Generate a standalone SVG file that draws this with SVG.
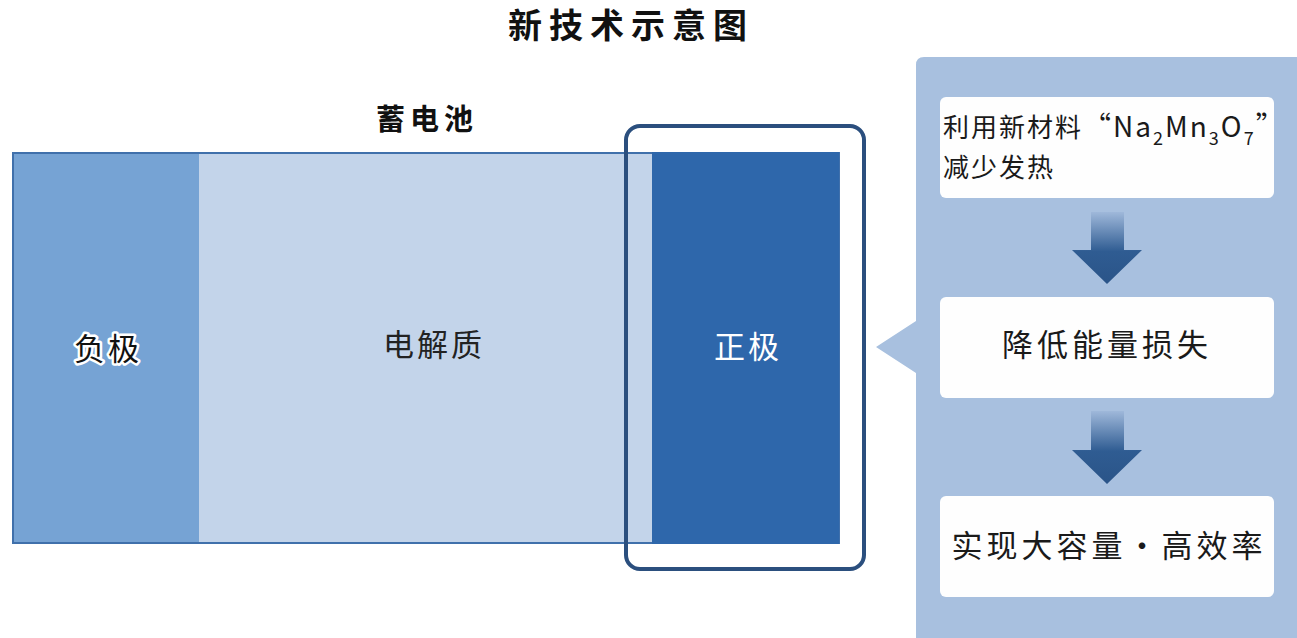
<svg xmlns="http://www.w3.org/2000/svg" width="1297" height="638" viewBox="0 0 1297 638">
<style>
text{font-family:"Noto Sans CJK SC","Noto Sans",sans-serif;}
.title{font-size:34px;font-weight:bold;fill:#111;letter-spacing:7px;}
.sub{font-size:29px;font-weight:bold;fill:#111;letter-spacing:5px;}
.lbl{font-size:31px;letter-spacing:3px;}
.box{fill:#fefefe;}
.btxt{font-size:31px;fill:#1a1a1a;letter-spacing:4px;}
.arrow{fill:url(#ag);}
</style>
<defs>
<linearGradient id="ag" x1="0" y1="0" x2="0" y2="1">
<stop offset="0" stop-color="#9fb8da"/>
<stop offset="0.55" stop-color="#2f5c92"/>
<stop offset="1" stop-color="#2a5488"/>
</linearGradient>
</defs>
<rect width="1297" height="638" fill="#ffffff"/>
<text class="title" x="631" y="38" text-anchor="middle">新技术示意图</text>
<text class="sub" x="427" y="130" text-anchor="middle">蓄电池</text>

<g id="battery">
<g id="negative">
<rect x="13" y="153" width="186" height="390" fill="#76a3d4"/>
<text class="lbl" x="108" y="360" text-anchor="middle" fill="#111" stroke="#ffffff" stroke-width="5" stroke-linejoin="round" paint-order="stroke">负极</text>
</g>
<g id="electrolyte">
<rect x="199" y="153" width="453" height="390" fill="#c3d4ea"/>
<text class="lbl" x="434" y="356" text-anchor="middle" fill="#222">电解质</text>
</g>
<rect x="13" y="153" width="826" height="390" fill="none" stroke="#4070ab" stroke-width="2"/>
<g id="positive">
<rect x="652" y="152" width="187" height="392" fill="#2e67ab"/>
<text class="lbl" x="748" y="358" text-anchor="middle" fill="#ffffff">正极</text>
</g>
</g>

<g id="highlight">
<rect x="626" y="126" width="238" height="443" rx="14" fill="none" stroke="#2b4f7e" stroke-width="4"/>
</g>

<g id="panel">
<path d="M916,65 Q916,57 924,57 L1297,57 L1297,638 L916,638 L916,373 L876,347 L916,321 Z" fill="#a8c0df"/>
</g>

<g id="box1">
<rect class="box" x="940" y="97" width="334" height="101" rx="6"/>
<text x="943" y="137" font-size="26" fill="#1a1a1a"><tspan letter-spacing="2">利用新材料</tspan><tspan font-size="28" letter-spacing="2">“Na</tspan><tspan font-size="18" dy="8" letter-spacing="2">2</tspan><tspan font-size="28" dy="-8" letter-spacing="2">Mn</tspan><tspan font-size="18" dy="8" letter-spacing="2">3</tspan><tspan font-size="28" dy="-8" letter-spacing="2">O</tspan><tspan font-size="18" dy="8" letter-spacing="2">7</tspan><tspan font-size="28" dy="-8">”</tspan></text>
<text x="943" y="177" font-size="26" fill="#1a1a1a" letter-spacing="2">减少发热</text>
</g>
<g id="box2">
<rect class="box" x="940" y="297" width="334" height="101" rx="6"/>
<text class="btxt" x="1107" y="356" text-anchor="middle">降低能量损失</text>
</g>
<g id="box3">
<rect class="box" x="940" y="496" width="334" height="101" rx="6"/>
<text class="btxt" x="1109" y="557" text-anchor="middle" font-size="33" letter-spacing="3">实现大容量・高效率</text>
</g>

<g id="connectors">
<path class="arrow" d="M1091,212 L1124,212 L1124,250 L1142,250 L1107,284 L1072,250 L1091,250 Z"/>
<path class="arrow" d="M1091,411 L1124,411 L1124,450 L1142,450 L1107,484 L1072,450 L1091,450 Z"/>
</g>
</svg>
